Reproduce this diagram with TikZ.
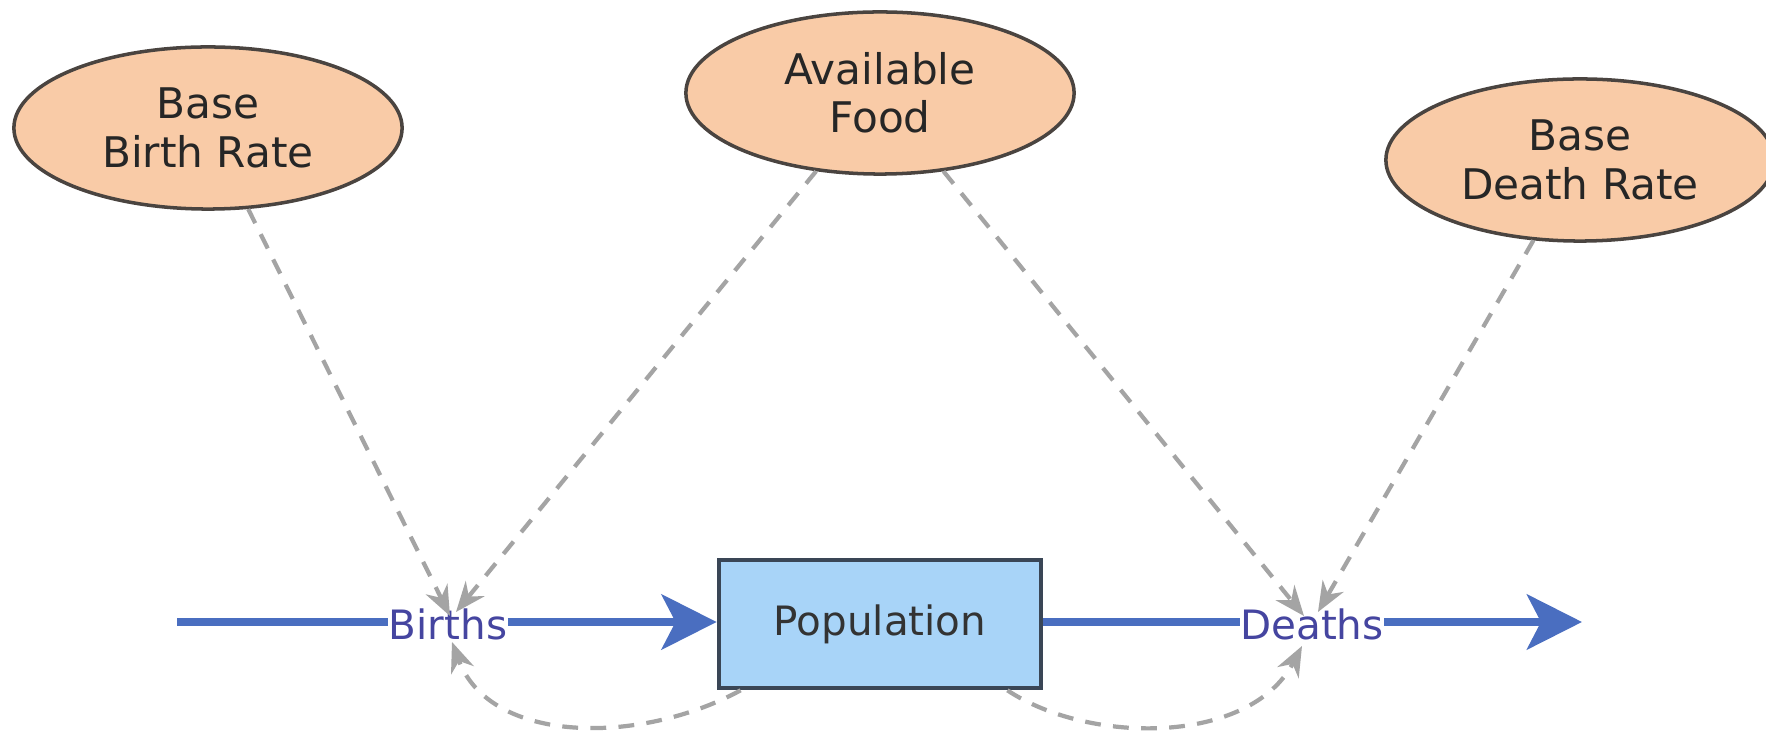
\documentclass[tikz,border=0pt]{standalone}
\usepackage{fontspec}
\setmainfont{DejaVu Sans}
\usetikzlibrary{arrows.meta,calc,shapes.geometric}
\definecolor{peach}{HTML}{F9CBA7}
\definecolor{auxline}{HTML}{4A4440}
\definecolor{stockfill}{HTML}{A8D4F8}
\definecolor{stockline}{HTML}{3A4656}
\definecolor{flowblue}{HTML}{4A6EC0}
\definecolor{flowtext}{HTML}{4545A0}
\definecolor{linkgray}{HTML}{A4A4A4}
\begin{document}
\begin{tikzpicture}[x=0.01cm,y=-0.01cm,
  auxvar/.style={ellipse, draw=auxline, fill=peach, line width=1pt, inner sep=0pt,
    minimum width=3.88cm, minimum height=1.62cm, align=center, text=black!85,
    font=\fontsize{12}{13.7}\selectfont},
  stockbox/.style={rectangle, draw=stockline, fill=stockfill, line width=1.3pt,
    minimum width=3.22cm, minimum height=1.28cm, inner sep=0pt, text=black!80,
    font=\fontsize{11.5}{13.7}\selectfont},
  flowlabel/.style={inner sep=0pt, text=flowtext, font=\fontsize{11.5}{13.7}\selectfont},
  flowpipe/.style={draw=flowblue, line width=2.3pt},
  flowarrow/.style={flowpipe, -{Stealth[length=0.55cm, width=0.55cm, inset=0.14cm]}},
  link/.style={draw=linkgray, line width=1.2pt, dash pattern=on 4.5pt off 3.5pt,
    -{Stealth[length=0.3cm, width=0.24cm]}}]
\useasboundingbox (0,0) rectangle (1766,734);
\fill[white] (0,0) rectangle (1766,734);

\node[auxvar] (bbr) at (208,128) {Base\\Birth Rate};
\node[auxvar] (food) at (880,93) {Available\\Food};
\node[auxvar] (bdr) at (1580,160) {Base\\Death Rate};

\node[stockbox] (pop) at (880,624) {Population};
\node[flowlabel] (births) at (448,624) {Births};
\node[flowlabel] (deaths) at (1312,624) {Deaths};

\coordinate (src) at (177,622);
\coordinate (snk) at (1582,622);

\draw[flowpipe] (src) -- (births.west |- src);
\draw[flowarrow] (births.east |- src) -- (pop.west |- src);
\draw[flowpipe] (pop.east |- src) -- (deaths.west |- src);
\draw[flowarrow] (deaths.east |- src) -- (snk);

\coordinate (b1) at ($(births)+(2,-8)$);
\coordinate (b2) at ($(births)+(8,-12)$);
\coordinate (b3) at ($(births)+(4,18)$);
\coordinate (d1) at ($(deaths)+(-8,-8)$);
\coordinate (d2) at ($(deaths)+(6,-12)$);
\coordinate (d3) at ($(deaths)+(-10,22)$);
\coordinate (pl) at ($(pop.south west)+(24,0)$);
\coordinate (pr) at ($(pop.south east)+(-36,0)$);

\draw[link] (bbr) -- (b1);
\draw[link] (food) -- (b2);
\draw[link] (food) -- (d1);
\draw[link] (bdr) -- (d2);
\draw[link] (pl) .. controls (640,745) and (490,745) .. (b3);
\draw[link] (pr) .. controls (1090,745) and (1250,745) .. (d3);
\end{tikzpicture}
\end{document}
